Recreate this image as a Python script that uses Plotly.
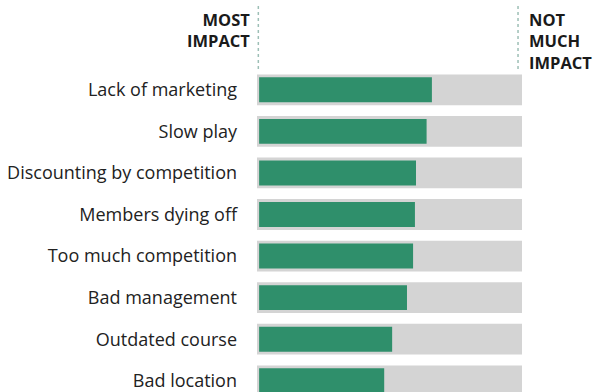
import plotly.graph_objects as go

# Reasons, top to bottom, with their impact scores on a 0-100 track
reasons = [
    "Lack of marketing",
    "Slow play",
    "Discounting by competition",
    "Members dying off",
    "Too much competition",
    "Bad management",
    "Outdated course",
    "Bad location",
]
impact = [66, 64, 60, 59.6, 58.9, 56.6, 51, 48]
track_max = [100] * len(reasons)

GREEN = "#2f8f6b"
TRACK = "#d4d4d4"
FONT = "Open Sans"

fig = go.Figure()

# Full-length grey track behind each bar
fig.add_trace(go.Bar(
    y=reasons, x=track_max, orientation="h",
    marker=dict(color=TRACK, line=dict(width=0)),
    width=0.74, hoverinfo="skip", showlegend=False,
))

# Green score bar, inset slightly inside the track
fig.add_trace(go.Bar(
    y=reasons, x=[v - 0.8 for v in impact], base=0.8, orientation="h",
    marker=dict(color=GREEN, line=dict(width=0)),
    width=0.6, showlegend=False,
))

fig.update_layout(
    width=595, height=392,
    margin=dict(l=257, r=73, t=69, b=0),
    paper_bgcolor="white", plot_bgcolor="white",
    barmode="overlay",
    font=dict(family=FONT, color="#222222"),
    xaxis=dict(range=[0, 100], visible=False, fixedrange=True),
    yaxis=dict(
        categoryorder="array", categoryarray=reasons,
        range=[7.27, -0.5],
        showgrid=False, zeroline=False, showline=False,
        ticks="", ticklabelstandoff=19,
        tickfont=dict(family=FONT, size=18, color="#222222"),
        fixedrange=True,
    ),
)

# Dotted guides marking each end of the scale
for xpos in [0.005, 0.985]:
    fig.add_shape(
        type="line", xref="paper", yref="paper",
        x0=xpos, x1=xpos, y0=1.0, y1=1.2,
        line=dict(color="#9dbfb6", width=1.5, dash="dot"),
    )

fig.add_annotation(
    text="<b>MOST<br>IMPACT</b>", xref="paper", yref="paper",
    x=-0.018, y=1.196, xanchor="right", yanchor="top", align="right",
    showarrow=False, font=dict(family=FONT, size=16.5, color="#1a1a1a"),
)
fig.add_annotation(
    text="<b>NOT<br>MUCH<br>IMPACT</b>", xref="paper", yref="paper",
    x=1.018, y=1.196, xanchor="left", yanchor="top", align="left",
    showarrow=False, font=dict(family=FONT, size=16.5, color="#1a1a1a"),
)

fig.write_html("out.html")
